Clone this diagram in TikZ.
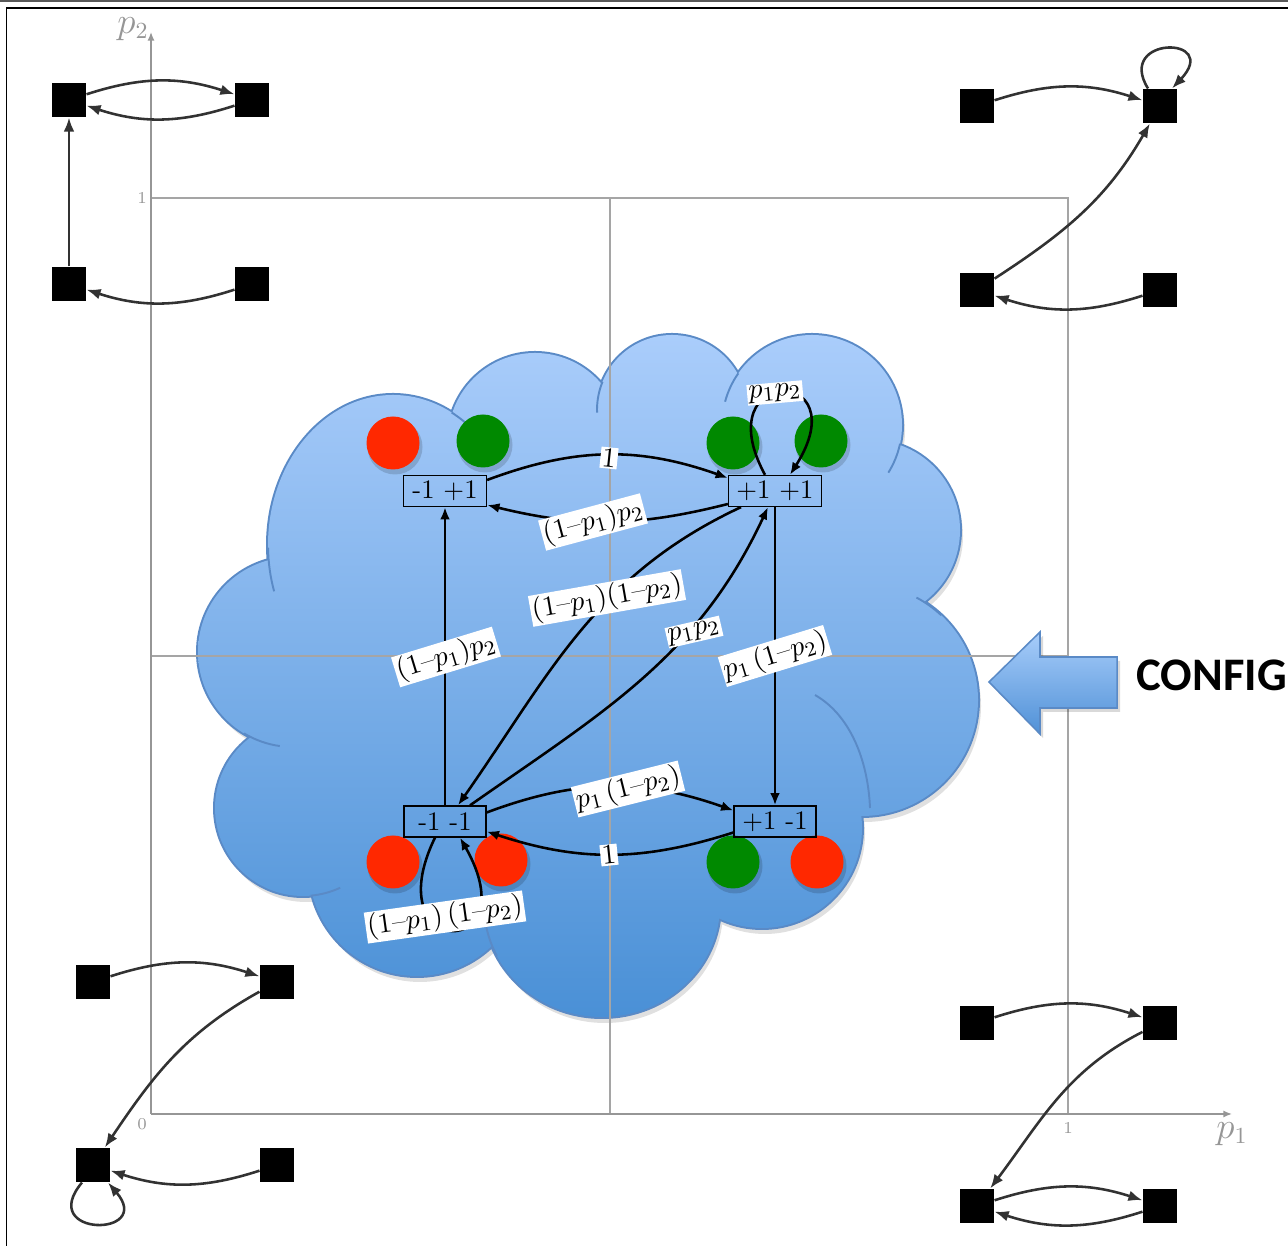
\documentclass[tikz,border=0pt]{standalone}
\usepackage{fontspec}
\newfontfamily\configfont{Carlito}
\usetikzlibrary{arrows.meta,calc}

\def\U{0.39pt}
\definecolor{cloudtop}{RGB}{170,205,251}
\definecolor{cloudbot}{RGB}{74,144,214}
\definecolor{cloudline}{RGB}{90,138,198}
\definecolor{arrowtop}{RGB}{168,205,250}
\definecolor{arrowbot}{RGB}{80,145,215}
\definecolor{axisgray}{RGB}{150,150,150}
\definecolor{gridgray}{RGB}{165,165,165}
\definecolor{dotred}{RGB}{255,40,0}
\definecolor{dotgreen}{RGB}{0,137,0}
\definecolor{edgegray}{RGB}{50,50,50}

% outline bumps of the cloud
\def\cloudbumps{%
  (293,594) circle[radius=95]
  (393,701) ellipse[x radius=125,y radius=150]
  (535,806) circle[radius=87]
  (672,836) circle[radius=75]
  (812,821) circle[radius=90]
  (870,716) circle[radius=90]
  (862,546) circle[radius=116]
  (762,418) circle[radius=100]
  (602,341) ellipse[x radius=118,y radius=112]
  (417,378) circle[radius=108]
  (303,438) circle[radius=88]}

\begin{document}
\begin{tikzpicture}[x=\U,y=\U,
  sq/.style={fill=black,minimum size=34*\U,inner sep=0pt},
  mini/.style={edgegray,line width=1pt,-{Latex[length=5.5pt,width=4.2pt]}},
  dot/.style={circle,minimum size=53*\U,inner sep=0pt},
  state/.style={draw=black,line width=0.5pt,minimum height=31*\U,inner sep=0pt,
    font=\fontsize{10.4}{12}\selectfont},
  trans/.style={black,line width=1pt,-{Latex[length=4.8pt,width=3.8pt]}},
  plab/.style={fill=white,inner sep=0.6pt,font=\fontsize{11}{13}\selectfont},
  axis/.style={axisgray,line width=0.6pt,-{Latex[length=3.4pt,width=2.8pt]}},
  gridline/.style={gridgray,line width=0.45pt},
  cloudin/.style={cloudline,line width=0.75pt},
  ticklab/.style={axisgray,inner sep=0pt,font=\fontsize{6.5}{7}\selectfont},
  axlab/.style={axisgray,inner sep=0pt,font=\fontsize{13.5}{15}\selectfont}]

\useasboundingbox (0,0) rectangle (1288,1246);

% page frame
\fill[black!65] (0,1243.5) rectangle (1288,1246);
\draw[black,line width=0.6pt] (6.5,0) -- (6.5,1238) -- (1288,1238);

% cloud: soft shadow, outline, gradient body
\fill[black,opacity=0.12,shift={(3,-6)}] \cloudbumps (590,596) ellipse[x radius=300,y radius=250];
\draw[cloudline,line width=4*\U] \cloudbumps;
\shade[top color=cloudtop,bottom color=cloudbot] \cloudbumps (590,596) ellipse[x radius=300,y radius=250];

% inner folds of the cloud
\draw[cloudin] ($(393,701)+(181:125 and 150)$) arc[start angle=181,end angle=198,x radius=125,y radius=150];
\draw[cloudin] ($(393,701)+(62:125 and 150)$) arc[start angle=62,end angle=50,x radius=125,y radius=150];
\draw[cloudin] ($(293,594)+(239:95)$) arc[start angle=239,end angle=262,radius=95];
\draw[cloudin] ($(602,341)+(178:118 and 112)$) arc[start angle=178,end angle=207,x radius=118,y radius=112];
\draw[cloudin] (815,551) .. controls (850,531) and (868,486) .. (870,438);
\draw[cloudin] ($(862,546)+(47:116)$) arc[start angle=47,end angle=62,radius=116];
\draw[cloudin] ($(812,821)+(-12:90)$) arc[start angle=-12,end angle=-32,radius=90];
\draw[cloudin] ($(672,836)+(158:75)$) arc[start angle=158,end angle=182,radius=75];
\draw[cloudin] ($(812,821)+(145:90)$) arc[start angle=145,end angle=165,radius=90];
\draw[cloudin] ($(303,438)+(-85:88)$) arc[start angle=-85,end angle=-65,radius=88];

% unit square grid and axes
\coordinate (O) at (151,132);
\draw[gridline] (151,1048) -- (1068,1048) -- (1068,132);
\draw[gridline] (610,132) -- (610,1048);
\draw[gridline] (151,590) -- (1068,590);
\draw[axis] (O) -- (1232,132);
\draw[axis] (O) -- (151,1214);
\node[ticklab] (t0) at (142,122) {0};
\node[ticklab] (tx) at (1068,118) {1};
\node[ticklab] (ty) at (142,1048) {1};
\node[axlab] (ax1) at (1232,112) {$p_1$};
\node[axlab] (ax2) at (133,1217) {$p_2$};

% CONFIG block arrow
\fill[black,opacity=0.15,shift={(3,-4)}] (989,564) -- (1040,614) -- (1040,589) -- (1117,589)
  -- (1117,538) -- (1040,538) -- (1040,512) -- cycle;
\shadedraw[top color=arrowtop,bottom color=arrowbot,draw=cloudline,line width=0.6pt]
  (989,564) -- (1040,614) -- (1040,589) -- (1117,589) -- (1117,538) -- (1040,538) -- (1040,512) -- cycle;
\node[anchor=base west,inner sep=0pt,font=\configfont\bfseries\fontsize{18.2}{20}\selectfont] (config) at (1136,555) {CONFIG};

% corner graphs
\node[sq] (A1) at (69,1146) {};
\node[sq] (A2) at (252,1146) {};
\node[sq] (A3) at (69,962) {};
\node[sq] (A4) at (252,962) {};
\draw[mini] (A1) to[bend left=18] (A2);
\draw[mini] (A2) to[bend left=18] (A1);
\draw[mini] (A3) -- (A1);
\draw[mini] (A4) to[bend left=18] (A3);

\node[sq] (B1) at (977,1140) {};
\node[sq] (B2) at (1160,1140) {};
\node[sq] (B3) at (977,956) {};
\node[sq] (B4) at (1160,956) {};
\draw[mini] (B1) to[bend left=18] (B2);
\draw[mini] ($(B2.north)+(-12,0)$) .. controls +(-33,53) and +(50,53) .. ($(B2.north)+(12,0)$);
\draw[mini] (B3) to[out=33,in=-120] (B2);
\draw[mini] (B4) to[bend left=18] (B3);

\node[sq] (C1) at (93,264) {};
\node[sq] (C2) at (277,264) {};
\node[sq] (C3) at (93,81) {};
\node[sq] (C4) at (277,81) {};
\draw[mini] (C1) to[bend left=18] (C2);
\draw[mini] (C2) to[out=-151,in=56] (C3);
\draw[mini] (C4) to[bend left=18] (C3);
\draw[mini] ($(C3.south)+(-11,0)$) .. controls +(-46,-55) and +(47,-55) .. ($(C3.south)+(15,0)$);

\node[sq] (D1) at (977,223) {};
\node[sq] (D2) at (1160,223) {};
\node[sq] (D3) at (977,40) {};
\node[sq] (D4) at (1160,40) {};
\draw[mini] (D1) to[bend left=18] (D2);
\draw[mini] (D2) to[out=-153,in=53] (D3);
\draw[mini] (D3) to[bend left=18] (D4);
\draw[mini] (D4) to[bend left=18] (D3);

% agent colour dots
\foreach \n/\x/\y/\c in {r1/393/803/dotred, g1/483/805/dotgreen, g2/733/803/dotgreen,
    g3/821/805/dotgreen, r2/393/384/dotred, r3/501/386/dotred, g4/733/384/dotgreen,
    r4/817/384/dotred}{
  \fill[black,opacity=0.15] (\x+2,\y-4) circle[radius=27.5];
  \node[dot,fill=\c] (\n) at (\x,\y) {};
}

% joint states
\node[state,minimum width=83*\U] (mp) at (445,755) {-1 +1};
\node[state,minimum width=93*\U] (pp) at (775,755) {+1 +1};
\node[state,minimum width=82*\U] (mm) at (445,424.5) {-1 -1};
\node[state,minimum width=82*\U] (pm) at (775,424.5) {+1 -1};

% transitions
\draw[trans] ($(mp.east)+(0,11)$) to[bend left=20] ($(pp.west)+(0,13)$);
\draw[trans] ($(pp.west)+(0,-13)$) to[bend left=14] ($(mp.east)+(0,-14)$);
\draw[trans] ($(pp.north)+(-10,0)$) .. controls +(-60,110.5) and +(70,110.5) .. ($(pp.north)+(15,0)$);
\draw[trans] (mm) -- (mp);
\draw[trans] (pp) -- (pm);
\draw[trans] ($(pp.south)+(-34,0)$) to[out=-155,in=55] ($(mm.north)+(13,0)$);
\draw[trans] ($(mm.north)+(25,0)$) to[out=35,in=-115] ($(pp.south)+(-7,0)$);
\draw[trans] ($(mm.east)+(0,9)$) to[bend left=20] ($(pm.west)+(0,11)$);
\draw[trans] ($(pm.west)+(0,-11)$) to[bend left=18] ($(mm.east)+(0,-10)$);
\draw[trans] ($(mm.south)+(-10,0)$) .. controls +(-60,-123) and +(70,-123) .. ($(mm.south)+(15,0)$);

% transition probabilities
\node[plab,rotate=-6] (l1) at (609,788) {$1$};
\node[plab,rotate=15] (l2) at (593,724) {$(1\mbox{--}p_1)p_2$};
\node[plab,rotate=5] (l3) at (775,853) {$p_1p_2$};
\node[plab,rotate=17] (l4) at (446,589) {$(1\mbox{--}p_1)p_2$};
\node[plab,rotate=10] (l5) at (607,648) {$(1\mbox{--}p_1)(1\mbox{--}p_2)$};
\node[plab,rotate=13] (l6) at (694,614) {$p_1p_2$};
\node[plab,rotate=17] (l7) at (775,590) {$p_1\,(1\mbox{--}p_2)$};
\node[plab,rotate=14] (l8) at (628,457) {$p_1\,(1\mbox{--}p_2)$};
\node[plab,rotate=6] (l9) at (609,391) {$1$};
\node[plab,rotate=8] (l10) at (445,329) {$(1\mbox{--}p_1)\,(1\mbox{--}p_2)$};

\end{tikzpicture}
\end{document}
